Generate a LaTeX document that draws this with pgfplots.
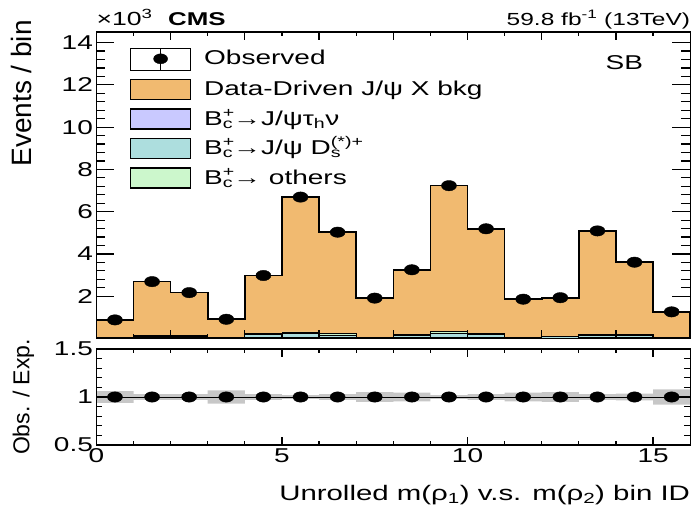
\documentclass[border=0pt]{standalone}
\usepackage{fontspec}
\setmainfont{Liberation Sans}[FakeStretch=1.4]
\newfontfamily\plainsans{Liberation Sans}
\usepackage{pgfplots}
\pgfplotsset{compat=1.18}
\definecolor{bkg}{RGB}{241,186,112}
\definecolor{tauc}{RGB}{201,201,255}
\definecolor{dsc}{RGB}{173,222,222}
\definecolor{othc}{RGB}{204,247,204}
\newcommand{\fs}[1]{\fontsize{#1}{#1}\selectfont}
\newcommand{\Bc}{B\rlap{\textsuperscript{+}}\textsubscript{c}}
\begin{document}
\begin{tikzpicture}
\useasboundingbox (0,0) rectangle (698pt,511pt);
\pgfplotsset{
  common/.style={scale only axis, width=593.8pt, xmin=0, xmax=16,
    tick align=inside, axis line style={line width=1.4pt},
    tick style={black, line width=1.2pt},
    /pgf/number format/assume math mode=true,
    tick label style={font=\fs{20}},
    clip mode=individual,
    axis on top},
  dots/.style={only marks, mark=*, mark size=5.2pt, mark options={xscale=1.45, fill=black, draw=black}, forget plot},
  hist/.style={const plot, draw=black, line width=#1, forget plot},
}
% ---------------- top panel ----------------
\begin{axis}[common, at={(96.4pt,172.5pt)}, anchor=south west, height=306.5pt,
  ymin=0, ymax=14.5, ytick={2,4,...,14}, minor y tick num=4,
  xtick={0,2,...,16}, minor x tick num=1, xticklabel=\empty,
  major tick length=18pt, minor tick length=9pt,
  xtick style={/pgfplots/major tick length=8pt,/pgfplots/minor tick length=4pt},
  ylabel={\plainsans\fs{28}Events / bin},
  ylabel style={at={(axis description cs:-0.1085,1.039)}, anchor=base east, inner sep=0pt},
  legend cell align=left,
  legend style={draw=none, fill=none, inner sep=0pt, outer sep=0pt, row sep=8.3pt,
    font=\fs{20}, at={(axis description cs:0.0566,0.951)}, anchor=north west,
    nodes={inner sep=0pt, text height=15pt, text depth=3pt},
    /tikz/every odd column/.append style={column sep=13pt}},
]
\addplot[hist=1.6pt, fill=bkg] coordinates {
(0,0.88) (1,2.69) (2,2.17) (3,0.91) (4,2.98) (5,6.69) (6,5.03) (7,1.91)
(8,3.25) (9,7.23) (10,5.19) (11,1.86) (12,1.93) (13,5.09) (14,3.61) (15,1.26) (16,1.26)} \closedcycle;
% B_c -> others (stack total)
\addplot[hist=0.8pt, fill=othc] coordinates {
(0,0.07) (1,0.14) (2,0.13) (3,0.05) (4,0.24) (5,0.31) (6,0.23) (7,0.05)
(8,0.18) (9,0.32) (10,0.26) (11,0.05) (12,0.11) (13,0.18) (14,0.18) (15,0.05) (16,0.05)} \closedcycle;
% B_c -> J/psi D_s (cumulative)
\addplot[hist=0.8pt, fill=dsc] coordinates {
(0,0.05) (1,0.11) (2,0.10) (3,0.04) (4,0.18) (5,0.22) (6,0.17) (7,0.04)
(8,0.13) (9,0.23) (10,0.19) (11,0.04) (12,0.08) (13,0.13) (14,0.13) (15,0.04) (16,0.04)} \closedcycle;
% B_c -> J/psi tau nu
\addplot[hist=0.8pt, fill=tauc] coordinates {
(0,0.02) (1,0.03) (2,0.03) (3,0.01) (4,0.04) (5,0.05) (6,0.04) (7,0.01)
(8,0.03) (9,0.05) (10,0.04) (11,0.01) (12,0.02) (13,0.03) (14,0.03) (15,0.01) (16,0.01)} \closedcycle;
% observed
\addplot[dots] coordinates {
(0.5,0.88) (1.5,2.69) (2.5,2.17) (3.5,0.91) (4.5,2.98) (5.5,6.69) (6.5,5.03) (7.5,1.91)
(8.5,3.25) (9.5,7.23) (10.5,5.19) (11.5,1.86) (12.5,1.93) (13.5,5.09) (14.5,3.61) (15.5,1.26)};
% legend
\addlegendimage{legend image code/.code={\path (0pt,-11pt) rectangle (60pt,11pt);
  \draw[line width=1.6pt] (30pt,-11pt)--(30pt,11pt);
  \fill (30pt,0pt) ellipse[x radius=7pt, y radius=5pt];}}
\addlegendentry{Observed}
\addlegendimage{legend image code/.code={\draw[line width=1.2pt, fill=bkg] (0pt,-10pt) rectangle (60pt,10pt);}}
\addlegendentry{Data-Driven J/ψ X bkg}
\addlegendimage{legend image code/.code={\draw[line width=1.2pt, fill=tauc] (0pt,-10pt) rectangle (60pt,10pt);}}
\addlegendentry{\Bc→J/ψτ\textsubscript{h}ν}
\addlegendimage{legend image code/.code={\draw[line width=1.2pt, fill=dsc] (0pt,-10pt) rectangle (60pt,10pt);}}
\addlegendentry{\Bc→J/ψ D\rlap{\textsubscript{s}}\textsuperscript{(*)+}}
\addlegendimage{legend image code/.code={\draw[line width=1.2pt, fill=othc] (0pt,-10pt) rectangle (60pt,10pt);}}
\addlegendentry{\Bc→ others}
% texts
\node[anchor=base west, inner sep=0pt, font=\fs{19}] at (axis description cs:0,1.0228) {×10\textsuperscript{3}};
\node[anchor=base west, inner sep=0pt, font=\fs{18.5}\bfseries] at (axis description cs:0.1206,1.0228) {CMS};
\node[anchor=base east, inner sep=0pt, font=\fs{17.5}] at (axis description cs:1,1.0228) {59.8 fb\textsuperscript{-1} (13TeV)};
\node[anchor=base east, inner sep=0pt, font=\fs{20}] at (axis description cs:0.921,0.876) {SB};
\end{axis}
% ---------------- ratio panel ----------------
\begin{axis}[common, at={(96.4pt,66pt)}, anchor=south west, height=96pt,
  ymin=0.5, ymax=1.5, ytick={0.5,1,1.5}, yticklabels={0.5,1,1.5}, minor y tick num=4,
  xtick={0,5,10,15}, minor x tick num=4,
  major tick length=13pt, minor tick length=6pt,
  xtick style={/pgfplots/major tick length=8pt,/pgfplots/minor tick length=4pt},
  xlabel={\fs{21}Unrolled m(ρ\textsubscript{1}) v.s. m(ρ\textsubscript{2}) bin ID},
  xlabel style={at={(axis description cs:1,-0.573)}, anchor=base east, inner sep=0pt},
  ylabel={\plainsans\fs{23}Obs. / Exp.},
  ylabel style={at={(axis description cs:-0.1127,0.5)}, anchor=base, inner sep=0pt},
]
\addplot[fill=black!22, draw=none, forget plot] coordinates {
(0,1.06)(1,1.06)(1,1.03)(2,1.03)(3,1.03)(3,1.07)(4,1.07)(4,1.03)(5,1.03)(5,1.02)(6,1.02)(6,1.03)(7,1.03)(7,1.05)(8,1.05)(8,1.045)(9,1.045)(9,1.02)(10,1.02)(10,1.03)(11,1.03)(11,1.045)(12,1.045)(12,1.05)(13,1.05)(13,1.03)(14,1.03)(14,1.035)(15,1.035)(15,1.08)(16,1.08)
(16,0.92)(15,0.92)(15,0.965)(14,0.965)(14,0.97)(13,0.97)(13,0.95)(12,0.95)(12,0.955)(11,0.955)(11,0.97)(10,0.97)(10,0.98)(9,0.98)(9,0.955)(8,0.955)(8,0.95)(7,0.95)(7,0.97)(6,0.97)(6,0.98)(5,0.98)(5,0.97)(4,0.97)(4,0.93)(3,0.93)(3,0.97)(1,0.97)(1,0.94)(0,0.94)} -- cycle;
\addplot[black, line width=0.8pt, forget plot] coordinates {(0,1) (16,1)};
\addplot[dots] coordinates {
(0.5,1) (1.5,1) (2.5,1) (3.5,1) (4.5,1) (5.5,1) (6.5,1) (7.5,1)
(8.5,1) (9.5,1) (10.5,1) (11.5,1) (12.5,1) (13.5,1) (14.5,1) (15.5,1)};
\end{axis}
\end{tikzpicture}
\end{document}
